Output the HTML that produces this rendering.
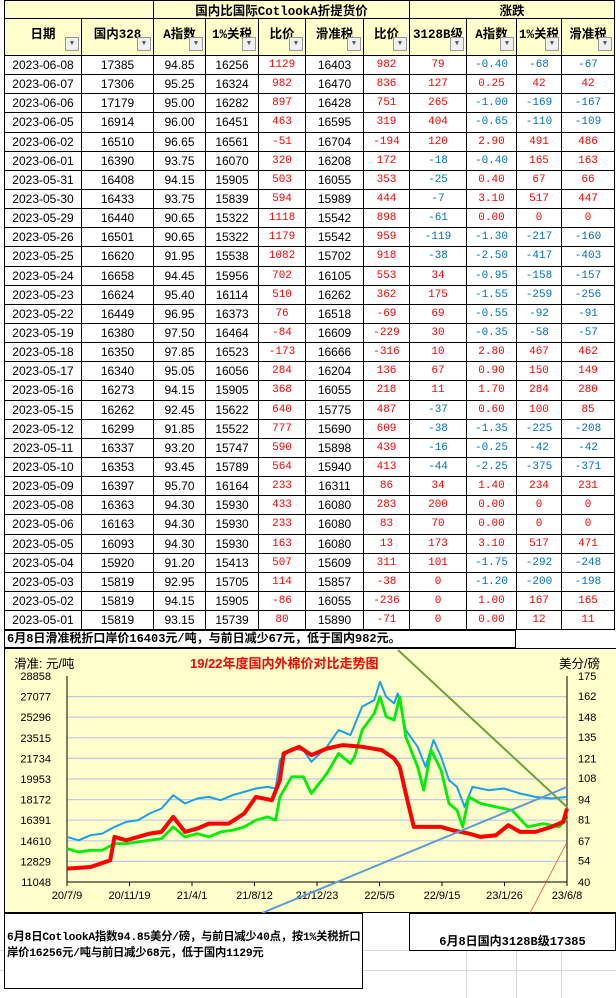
<!DOCTYPE html>
<html><head><meta charset="utf-8">
<style>
body{margin:0;width:616px;height:998px;position:relative;background:#fff;overflow:hidden;font-family:"Liberation Sans","Noto Sans CJK SC",sans-serif;}
.c{position:absolute;box-sizing:border-box;display:flex;align-items:center;justify-content:center;font-size:12px;white-space:nowrap;}
.h{background:#ffffcc;font-weight:bold;font-size:12.5px;font-family:"Liberation Mono","Noto Sans CJK SC",monospace;}
.fb{position:absolute;width:14px;height:14px;border:1px solid #999;background:#f0f0f0;box-sizing:border-box;font-size:7px;color:#555;display:flex;align-items:center;justify-content:center;}
.gl{position:absolute;background:#d8d8d8;}
</style></head><body>
<div id="tbl"></div>
<div style="position:absolute;left:4px;top:630px;width:512px;height:18px;border:1px solid #000;box-sizing:border-box;font-weight:bold;font-size:12px;line-height:16px;padding-left:2px;font-family:'Liberation Mono','Noto Sans CJK SC',monospace;">6月8日滑准税折口岸价16403元/吨，与前日减少67元，低于国内982元。</div>
<svg id="chart" width="616" height="268" style="position:absolute;left:0;top:647px" viewBox="0 647 616 268"></svg>
<div class="gl" style="left:0;top:950px;width:616px;height:1px"></div>
<div class="gl" style="left:0;top:970px;width:616px;height:1px"></div>
<div class="gl" style="left:466px;top:913px;width:1px;height:85px"></div>
<div class="gl" style="left:516px;top:913px;width:1px;height:85px"></div>
<div class="gl" style="left:561px;top:913px;width:1px;height:85px"></div>
<div style="position:absolute;left:4px;top:913px;width:359px;height:76px;border:1px solid #000;box-sizing:border-box;background:#fff;font-weight:bold;font-size:11.3px;letter-spacing:-0.2px;line-height:16px;padding:16px 1px 0 2px;font-family:'Liberation Mono','Noto Sans CJK SC',monospace;">6月8日CotlookA指数94.85美分/磅，与前日减少40点，按1%关税折口岸价16256元/吨与前日减少68元，低于国内1129元</div>
<div style="position:absolute;left:409px;top:913px;width:207px;height:38px;border:1px solid #000;box-sizing:border-box;background:#fff;font-weight:bold;font-size:12px;padding-top:18px;text-align:center;font-family:'Liberation Mono','Noto Sans CJK SC',monospace;">6月8日国内3128B级17385</div>
<script>
const colEdges=[4,81,153,205,258,305,363,409,466,516,561,614];
const headers=["日期","国内328","A指数","1%关税","比价","滑准税","比价","3128B级","A指数","1%关税","滑准税"];
const rows=[
["2023-06-08","17385","94.85","16256","1129","16403","982","79","-0.40","-68","-67"],
["2023-06-07","17306","95.25","16324","982","16470","836","127","0.25","42","42"],
["2023-06-06","17179","95.00","16282","897","16428","751","265","-1.00","-169","-167"],
["2023-06-05","16914","96.00","16451","463","16595","319","404","-0.65","-110","-109"],
["2023-06-02","16510","96.65","16561","-51","16704","-194","120","2.90","491","486"],
["2023-06-01","16390","93.75","16070","320","16208","172","-18","-0.40","165","163"],
["2023-05-31","16408","94.15","15905","503","16055","353","-25","0.40","67","66"],
["2023-05-30","16433","93.75","15839","594","15989","444","-7","3.10","517","447"],
["2023-05-29","16440","90.65","15322","1118","15542","898","-61","0.00","0","0"],
["2023-05-26","16501","90.65","15322","1179","15542","959","-119","-1.30","-217","-160"],
["2023-05-25","16620","91.95","15538","1082","15702","918","-38","-2.50","-417","-403"],
["2023-05-24","16658","94.45","15956","702","16105","553","34","-0.95","-158","-157"],
["2023-05-23","16624","95.40","16114","510","16262","362","175","-1.55","-259","-256"],
["2023-05-22","16449","96.95","16373","76","16518","-69","69","-0.55","-92","-91"],
["2023-05-19","16380","97.50","16464","-84","16609","-229","30","-0.35","-58","-57"],
["2023-05-18","16350","97.85","16523","-173","16666","-316","10","2.80","467","462"],
["2023-05-17","16340","95.05","16056","284","16204","136","67","0.90","150","149"],
["2023-05-16","16273","94.15","15905","368","16055","218","11","1.70","284","280"],
["2023-05-15","16262","92.45","15622","640","15775","487","-37","0.60","100","85"],
["2023-05-12","16299","91.85","15522","777","15690","609","-38","-1.35","-225","-208"],
["2023-05-11","16337","93.20","15747","590","15898","439","-16","-0.25","-42","-42"],
["2023-05-10","16353","93.45","15789","564","15940","413","-44","-2.25","-375","-371"],
["2023-05-09","16397","95.70","16164","233","16311","86","34","1.40","234","231"],
["2023-05-08","16363","94.30","15930","433","16080","283","200","0.00","0","0"],
["2023-05-06","16163","94.30","15930","233","16080","83","70","0.00","0","0"],
["2023-05-05","16093","94.30","15930","163","16080","13","173","3.10","517","471"],
["2023-05-04","15920","91.20","15413","507","15609","311","101","-1.75","-292","-248"],
["2023-05-03","15819","92.95","15705","114","15857","-38","0","-1.20","-200","-198"],
["2023-05-02","15819","94.15","15905","-86","16055","-236","0","1.00","167","165"],
["2023-05-01","15819","93.15","15739","80","15890","-71","0","0.00","12","11"]];
const tbl=document.getElementById('tbl');
function cell(x,y,w,h,txt,cls){const d=document.createElement('div');d.className='c '+(cls||'');d.style.cssText+=`left:${x}px;top:${y}px;width:${w+1}px;height:${h+1}px;border:1px solid #000;`;d.textContent=txt;tbl.appendChild(d);return d;}
let g1=cell(4,0,149,18,"","h");


let g2=cell(153,0,256,18,"国内比国际CotlookA折提货价","h");


let g3=cell(409,0,205,18,"涨跌","h");


for(let i=0;i<11;i++){const x=colEdges[i],w=colEdges[i+1]-x;const d=cell(x,18,w,37,headers[i],"h");d.style.alignItems='flex-start';d.style.paddingTop='4px';


const b=document.createElement('div');b.className='fb';b.textContent='▼';b.style.left=(w-17)+'px';b.style.top='18px';


d.appendChild(b);}
const rh=19.14;
rows.forEach((r,ri)=>{const y=55+ri*rh;r.forEach((v,ci)=>{const x=colEdges[ci],w=colEdges[ci+1]-x;const d=cell(x,Math.round(y),w,Math.round(y+rh)-Math.round(y),v,"");


d.style.borderTop='none';
if(ci==4||ci==6){d.style.color='#ff0000';d.style.fontFamily='"Liberation Mono",monospace';d.style.fontSize='11px';}
else if(ci>=7){d.style.color=v.startsWith('-')?'#0070c0':'#ff0000';d.style.fontFamily='"Liberation Mono",monospace';d.style.fontSize='11px';}
});});

// chart
const leftTicks=[11048,12829,14610,16391,18172,19953,21734,23515,25296,27077,28858];
const rightTicks=[40,54,67,81,94,108,121,135,148,162,175];
const xLabels=["20/7/9","20/11/19","21/4/1","21/8/12","21/12/23","22/5/5","22/9/15","23/1/26","23/6/8"];
const totalDays=1064;
const blueDays=[0,25,50,75,101,126,151,176,201,226,251,277,302,327,352,377,402,427,444,453,478,503,520,553,578,603,628,654,666,679,696,704,721,746,763,780,796,813,830,846,863,897,930,964,997,1031,1064];
const blueVals=[14945,14657,15090,15234,15811,16244,16389,16966,17399,18553,17832,18265,18409,18120,18553,18842,19130,19274,19130,21584,22594,22450,21440,22739,24182,23749,26203,26780,28367,27068,26491,27357,24182,22739,21007,23316,21873,19852,19274,17543,19274,18986,19130,18697,18409,18265,18409];
const greenDays=[0,25,50,75,101,126,151,176,201,226,251,277,302,327,352,377,402,427,444,453,478,503,520,553,578,603,612,628,654,666,679,696,708,721,746,759,775,796,813,830,842,855,880,913,947,980,1014,1047,1064];
const greenVals=[13935,13646,13791,13791,14368,14368,14512,14657,14801,15811,14945,15234,14945,15378,15522,15811,16389,16677,16389,18409,20141,20141,18697,20430,22161,21295,21873,24182,25625,27068,25337,25048,27068,23605,21007,18986,22450,20718,17832,17255,15811,18409,17832,17543,17255,15811,16100,15811,16533];
const redDays=[0,50,92,101,126,176,201,226,251,277,302,344,377,402,436,453,461,494,520,553,587,628,670,696,708,721,738,763,796,821,855,880,913,939,964,997,1031,1056,1064];
const redVals=[12203,12347,12924,14945,14657,15234,15378,16677,15378,15666,16100,16100,16966,18409,18120,19852,22161,22739,22017,22594,22883,22739,22450,21729,21007,18697,15811,15811,15811,15522,15234,14945,15090,15955,15378,15378,15811,16244,17399];
const P={l:67,r:567,t:676,b:882};
const X=d=>P.l+d/totalDays*(P.r-P.l);
const Y=v=>P.t+(28858-v)/(28858-11048)*(P.b-P.t);
const YR=v=>P.t+(175-v)/(175-40)*(P.b-P.t);
const svg=document.getElementById('chart');const NS='http://www.w3.org/2000/svg';
function el(t,a,txt){const e=document.createElementNS(NS,t);for(const k in a)e.setAttribute(k,a[k]);if(txt!==undefined)e.textContent=txt;svg.appendChild(e);return e;}
let bg=el('rect',{x:4.5,y:648.5,width:620,height:264,fill:'#ffffcc',stroke:'#000'});


leftTicks.forEach((v,i)=>{
if(i>0&&i<leftTicks.length-1){const gl=el('line',{x1:P.l,x2:P.r,y1:Y(v),y2:Y(v),stroke:'#c0c8e8','stroke-width':1.2});

}
const t=el('text',{x:51,y:Y(v)+4,'text-anchor':'end','font-size':11,fill:'#000','font-family':'Liberation Sans'},v);

});
rightTicks.forEach(v=>{const t=el('text',{x:578,y:YR(v)+4,'font-size':11,fill:'#000','font-family':'Liberation Sans'},v);

});
let ax=el('path',{d:`M${P.l} ${P.t}V${P.b}H${P.r}V${P.t}`,fill:'none',stroke:'#000','stroke-width':1});


xLabels.forEach((s,i)=>{const x=P.l+i*(P.r-P.l)/(xLabels.length-1);
const tk=el('line',{x1:x,x2:x,y1:P.b,y2:P.b+4,stroke:'#000'});


const t=el('text',{x:x,y:899,'text-anchor':'middle','font-size':11,'font-family':'Liberation Sans'},s);

});
function series(days,vals,color,w,name){const d=days.map((dd,i)=>(i?'L':'M')+X(dd).toFixed(1)+' '+Y(vals[i]).toFixed(1)).join('');const p=el('path',{d:d,fill:'none',stroke:color,'stroke-width':w,'stroke-linejoin':'round'});

}
series(blueDays,blueVals,'#1aa0e8',2,'line-domestic-blue');
series(greenDays,greenVals,'#00ee00',2.8,'line-a-index-green');
series(redDays,redVals,'#ff0000',4,'line-hzs-red');
let t1=el('line',{x1:398,y1:650,x2:567,y2:807,stroke:'#70a040','stroke-width':2});


let t2=el('line',{x1:262,y1:913,x2:567,y2:787,stroke:'#5b9bd5','stroke-width':2});


let t3=el('line',{x1:530,y1:913,x2:566,y2:844,stroke:'#ff4040','stroke-width':0.8});


let t4=el('text',{x:14,y:668,'font-size':12.5,'font-family':'Liberation Sans,Noto Sans CJK SC'},'滑准: 元/吨');


let t5=el('text',{x:190,y:668,'font-size':13,'font-weight':'bold',fill:'#ff0000','font-family':'Liberation Sans,Noto Sans CJK SC'},'19/22年度国内外棉价对比走势图');


let t6=el('text',{x:559,y:668,'font-size':12.5,'font-family':'Liberation Sans,Noto Sans CJK SC'},'美分/磅');


</script>
</body></html>
